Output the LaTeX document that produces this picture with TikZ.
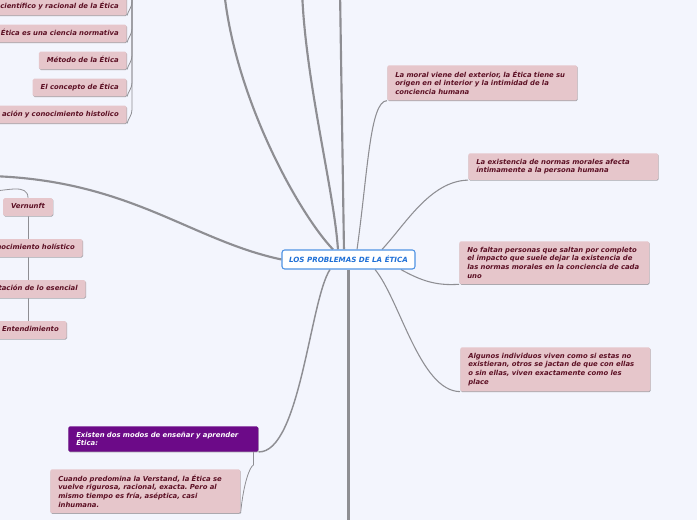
\documentclass[tikz,border=0pt]{standalone}
\usepackage{fontspec}
\setmainfont{DejaVu Sans}
\usetikzlibrary{shadows,backgrounds}
\frenchspacing
\definecolor{paper}{HTML}{F3F5FD}
\definecolor{leafbg}{HTML}{E6C6CB}
\definecolor{leafink}{HTML}{5C1024}
\definecolor{wire}{HTML}{8E8E93}
\definecolor{plum}{HTML}{6C0A88}
\definecolor{rootblue}{HTML}{1E6FD6}
\definecolor{rootedge}{HTML}{4F93E3}
\definecolor{shade}{HTML}{A4A4AA}

\begin{document}
\begin{tikzpicture}[x=0.75pt,y=0.75pt,
  font=\bfseries\itshape\fontsize{5.15}{6.56}\selectfont,
  leaf/.style={fill=leafbg,text=leafink,rounded corners=1.2pt,inner xsep=6pt,inner ysep=4.2pt,
    drop shadow={shadow xshift=0.35pt,shadow yshift=-0.6pt,fill=shade,opacity=1}},
  para/.style={leaf,text width=130.5pt,align=left,anchor=north west},
  chip/.style={leaf,text height=3.7pt,text depth=1.1pt},
  cut/.style={chip,text width=150pt,align=right,anchor=east},
  bough/.style={draw=wire,line width=1.6pt},
  limb/.style={draw=wire,line width=1.1pt},
  twig/.style={draw=wire,line width=0.6pt}]
\useasboundingbox (0,0) rectangle (697,-520);
% central topic
\node[draw=rootedge,fill=white,text=rootblue,rounded corners=2pt,line width=0.8pt,
  minimum width=99.75pt,minimum height=14.25pt,inner sep=0pt,
  font=\bfseries\itshape\fontsize{5.35}{6.5}\selectfont] (root) at (348.5,-259.5)
  {LOS PROBLEMAS DE LA ÉTICA};
% top left list, cut by the left edge
\node[cut] (tl1) at (127,-6.5) {científico y racional de la Ética};
\node[cut] (tl2) at (127,-33.5) {Ética es una ciencia normativa};
\node[chip,anchor=east] (tl3) at (127,-60.5) {Método de la Ética};
\node[chip,anchor=east] (tl4) at (127,-87.5) {El concepto de Ética};
\node[cut] (tl5) at (127,-114.5) {ación y conocimiento histolico};
% left column
\node[chip] (vern) at (28,-207) {Vernunft};
\node[cut] (holis) at (83,-248) {nocimiento holístico};
\node[cut] (essen) at (86,-289) {tación de lo esencial};
\node[cut] (enten) at (67,-330) {Entendimiento};
% right side
\node[para] (moral) at (387,-65) {La moral viene del exterior, la Ética tiene su\\origen en el interior y la intimidad de la\\conciencia humana};
\node[para] (normas) at (468,-153) {La existencia de normas morales afecta\\íntimamente a la persona humana};
\node[para] (faltan) at (459,-241) {No faltan personas que saltan por completo\\el impacto que suele dejar la existencia de\\las normas morales en la conciencia de cada\\uno};
\node[para] (algunos) at (460,-347) {Algunos individuos viven como si estas no\\existieran, otros se jactan de que con ellas\\o sin ellas, viven exactamente como les\\place};
% bottom left
\node[para,fill=plum,text=white] (modos) at (68,-426) {Existen dos modos de enseñar y aprender\\Ética:};
\node[para] (verst) at (50,-469) {Cuando predomina la Verstand, la Ética se\\vuelve rigurosa, racional, exacta. Pero al\\mismo tiempo es fría, aséptica, casi\\inhumana.};
% loose ends outside the frame
\coordinate (tltop) at (132,20);
\coordinate (lroot) at (-10,-191);
\coordinate (farleft) at (-10,-176);
\coordinate (upa) at (224,10);
\coordinate (upb) at (302,10);
\coordinate (upc) at (340,10);
\coordinate (down) at (348.5,-530);
\begin{scope}[on background layer]
\fill[paper] (0,0) rectangle (697,-520);
% branches leaving the picture
\draw[bough] (root.west) .. controls (190,-240) and (130,-180) .. (farleft);
\draw[bough] ([xshift=-11.6pt]root.north) .. controls (300,-215) and (235,-100) .. (upa);
\draw[bough] ([xshift=-7.9pt]root.north) .. controls (334,-190) and (305,-80) .. (upb);
\draw[bough] ([xshift=-3.4pt]root.north) -- (upc);
\draw[bough] (root.south) -- (down);
\draw[limb] ([xshift=-13.9pt]root.south) .. controls (310,-300) and (300,-453) .. (modos.south east);
% twigs to the right
\draw[twig,line width=0.8pt] ([xshift=6.4pt]root.north) .. controls (368,-170) and (370,-101) .. (moral.south west);
\draw[twig,line width=0.8pt] ([xshift=25.1pt]root.north) .. controls (405,-225) and (430,-181) .. (normas.south west);
\draw[twig,line width=0.8pt] ([xshift=-11pt]root.south east) .. controls (420,-280) and (435,-286) .. (faltan.south west);
\draw[twig,line width=0.8pt] ([xshift=19.9pt]root.south) .. controls (400,-300) and (420,-391) .. (algunos.south west);
% small connectors
\draw[twig] ([xshift=-3.75pt]modos.south east) -- ++(0,-13) .. controls +(-4,-2) and +(3,30) .. (verst.south east);
\foreach \n in {1,...,5}
  \draw[twig] (tl\n.south east) to[out=75,in=-90] ++(5,14) -- (tltop);
\draw[twig] (lroot) to[out=-2,in=90] (vern.north);
\draw[twig] (vern.south) -- (vern.south |- enten.north);
\end{scope}
\end{tikzpicture}
\end{document}
